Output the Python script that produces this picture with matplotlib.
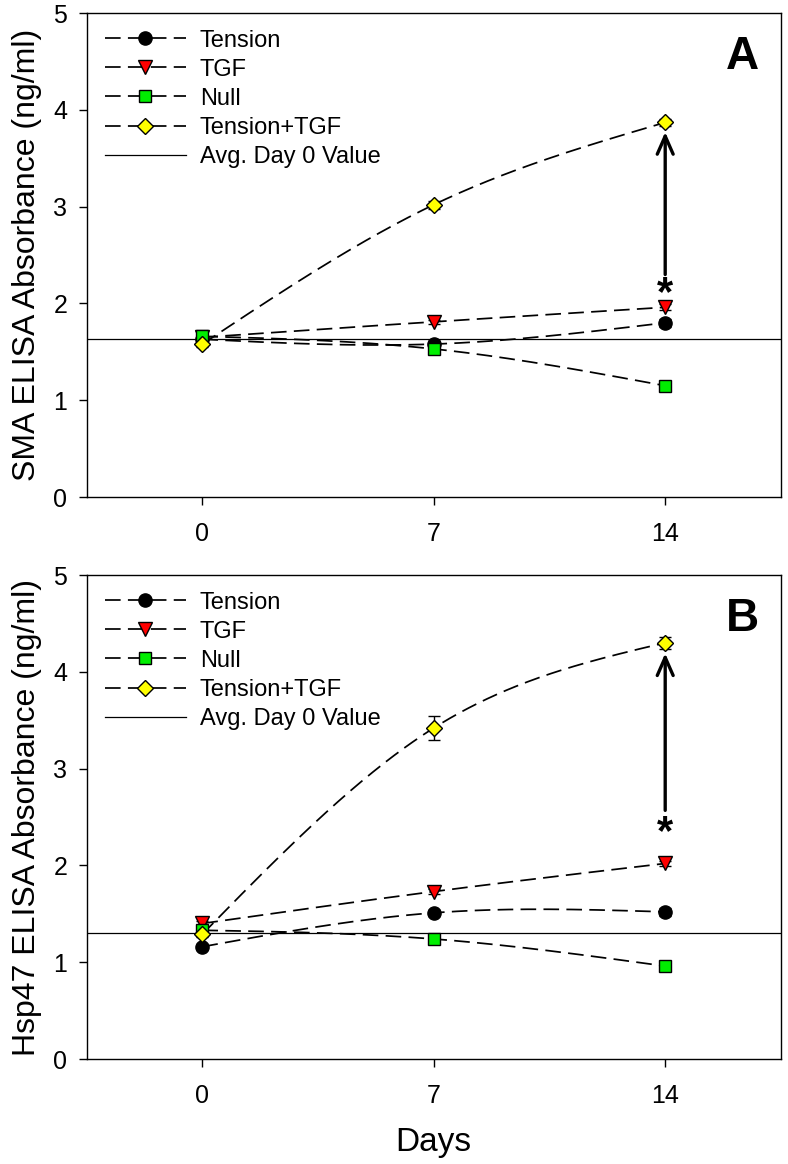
import numpy as np
import matplotlib.pyplot as plt

plt.rcParams['font.family'] = ['Liberation Sans', 'DejaVu Sans']

days = [0, 7, 14]
series_names = ['Tension', 'TGF', 'Null', 'Tension+TGF']

# panel A - SMA
sma_tension = [1.63, 1.58, 1.80]
sma_tgf = [1.65, 1.81, 1.96]
sma_null = [1.66, 1.53, 1.15]
sma_ttgf = [1.58, 3.02, 3.87]
sma_tension_err = [0.03, 0.03, 0.04]
sma_tgf_err = [0.03, 0.02, 0.03]
sma_null_err = [0.03, 0.03, 0.03]
sma_ttgf_err = [0.03, 0.04, 0.04]
sma_day0_avg = 1.63

# panel B - Hsp47
hsp_tension = [1.16, 1.51, 1.52]
hsp_tgf = [1.40, 1.73, 2.02]
hsp_null = [1.33, 1.24, 0.96]
hsp_ttgf = [1.29, 3.42, 4.30]
hsp_tension_err = [0.02, 0.03, 0.04]
hsp_tgf_err = [0.03, 0.03, 0.03]
hsp_null_err = [0.03, 0.03, 0.03]
hsp_ttgf_err = [0.03, 0.12, 0.06]
hsp_day0_avg = 1.30

styles = [('o', 'black', 9.5), ('v', 'red', 9.5), ('s', '#00ee00', 8.5), ('D', 'yellow', 8.5)]


def spline(x, y, n=100):
    # natural cubic spline through 3 evenly spaced points (like SigmaPlot's spline)
    x = np.asarray(x, float)
    y = np.asarray(y, float)
    h = x[1] - x[0]
    M = [0.0, 1.5 * (y[0] - 2 * y[1] + y[2]) / h ** 2, 0.0]
    xs, ys = [], []
    for i in range(2):
        t = np.linspace(x[i], x[i + 1], n)
        s = (M[i] * (x[i + 1] - t) ** 3 / (6 * h) + M[i + 1] * (t - x[i]) ** 3 / (6 * h)
             + (y[i] - M[i] * h ** 2 / 6) * (x[i + 1] - t) / h
             + (y[i + 1] - M[i + 1] * h ** 2 / 6) * (t - x[i]) / h)
        xs.append(t)
        ys.append(s)
    return np.concatenate(xs), np.concatenate(ys)


def panel(ax, data, errs, avg, ylabel, letter, arrow_lo, arrow_hi, star_y):
    handles = []
    for vals, err, name, (m, c, ms) in zip(data, errs, series_names, styles):
        sx, sy = spline(days, vals)
        ax.plot(sx, sy, color='black', lw=1.25, dashes=(9, 4.2), zorder=2)
        ax.errorbar(days, vals, yerr=err, fmt='none', ecolor='black', elinewidth=1,
                    capsize=4, capthick=1, zorder=3)
        ax.plot(days, vals, ls='none', marker=m, ms=ms, mfc=c, mec='black', mew=1, zorder=4)
        h, = ax.plot([], [], color='black', lw=1.25, dashes=(9, 4.2), marker=m, ms=ms,
                     mfc=c, mec='black', mew=1, label=name)
        handles.append(h)
    h = ax.axhline(avg, color='black', lw=0.9, zorder=1, label='Avg. Day 0 Value')
    handles.append(h)

    ax.annotate('', xy=(14, arrow_hi), xytext=(14, arrow_lo),
                arrowprops=dict(arrowstyle='->,head_length=0.5,head_width=0.22',
                                color='black', lw=2.4, mutation_scale=26))
    ax.text(14, star_y, '*', ha='center', va='center', fontsize=30, fontweight='bold')
    ax.text(0.945, 0.91, letter, transform=ax.transAxes, ha='center', va='center',
            fontsize=33, fontweight='bold')

    ax.set_xlim(-3.5, 17.5)
    ax.set_ylim(0, 5)
    ax.set_xticks(days)
    ax.set_yticks(range(6))
    ax.tick_params(direction='out', length=6, width=1, labelsize=18,
                   top=False, right=False)
    ax.tick_params(axis='x', pad=12)
    ax.tick_params(axis='y', pad=8)
    ax.set_ylabel(ylabel, fontsize=23, labelpad=8)
    for s in ax.spines.values():
        s.set_linewidth(1.0)
    ax.legend(handles=handles, loc='upper left', frameon=False, fontsize=17,
              handlelength=3.4, handletextpad=0.6, labelspacing=0.3,
              borderaxespad=0.3, bbox_to_anchor=(0.003, 1.0))


fig = plt.figure(figsize=(7.88, 11.64), dpi=100)
ax1 = fig.add_axes([0.110, 0.573, 0.881, 0.4158])
ax2 = fig.add_axes([0.110, 0.0902, 0.881, 0.4158])

panel(ax1, [sma_tension, sma_tgf, sma_null, sma_ttgf],
      [sma_tension_err, sma_tgf_err, sma_null_err, sma_ttgf_err],
      sma_day0_avg, 'SMA ELISA Absorbance (ng/ml)', 'A', 2.27, 3.80, 2.10)
panel(ax2, [hsp_tension, hsp_tgf, hsp_null, hsp_ttgf],
      [hsp_tension_err, hsp_tgf_err, hsp_null_err, hsp_ttgf_err],
      hsp_day0_avg, 'Hsp47 ELISA Absorbance (ng/ml)', 'B', 2.54, 4.22, 2.33)
ax2.set_xlabel('Days', fontsize=24, labelpad=14)

fig.savefig('out.png', dpi=100)
